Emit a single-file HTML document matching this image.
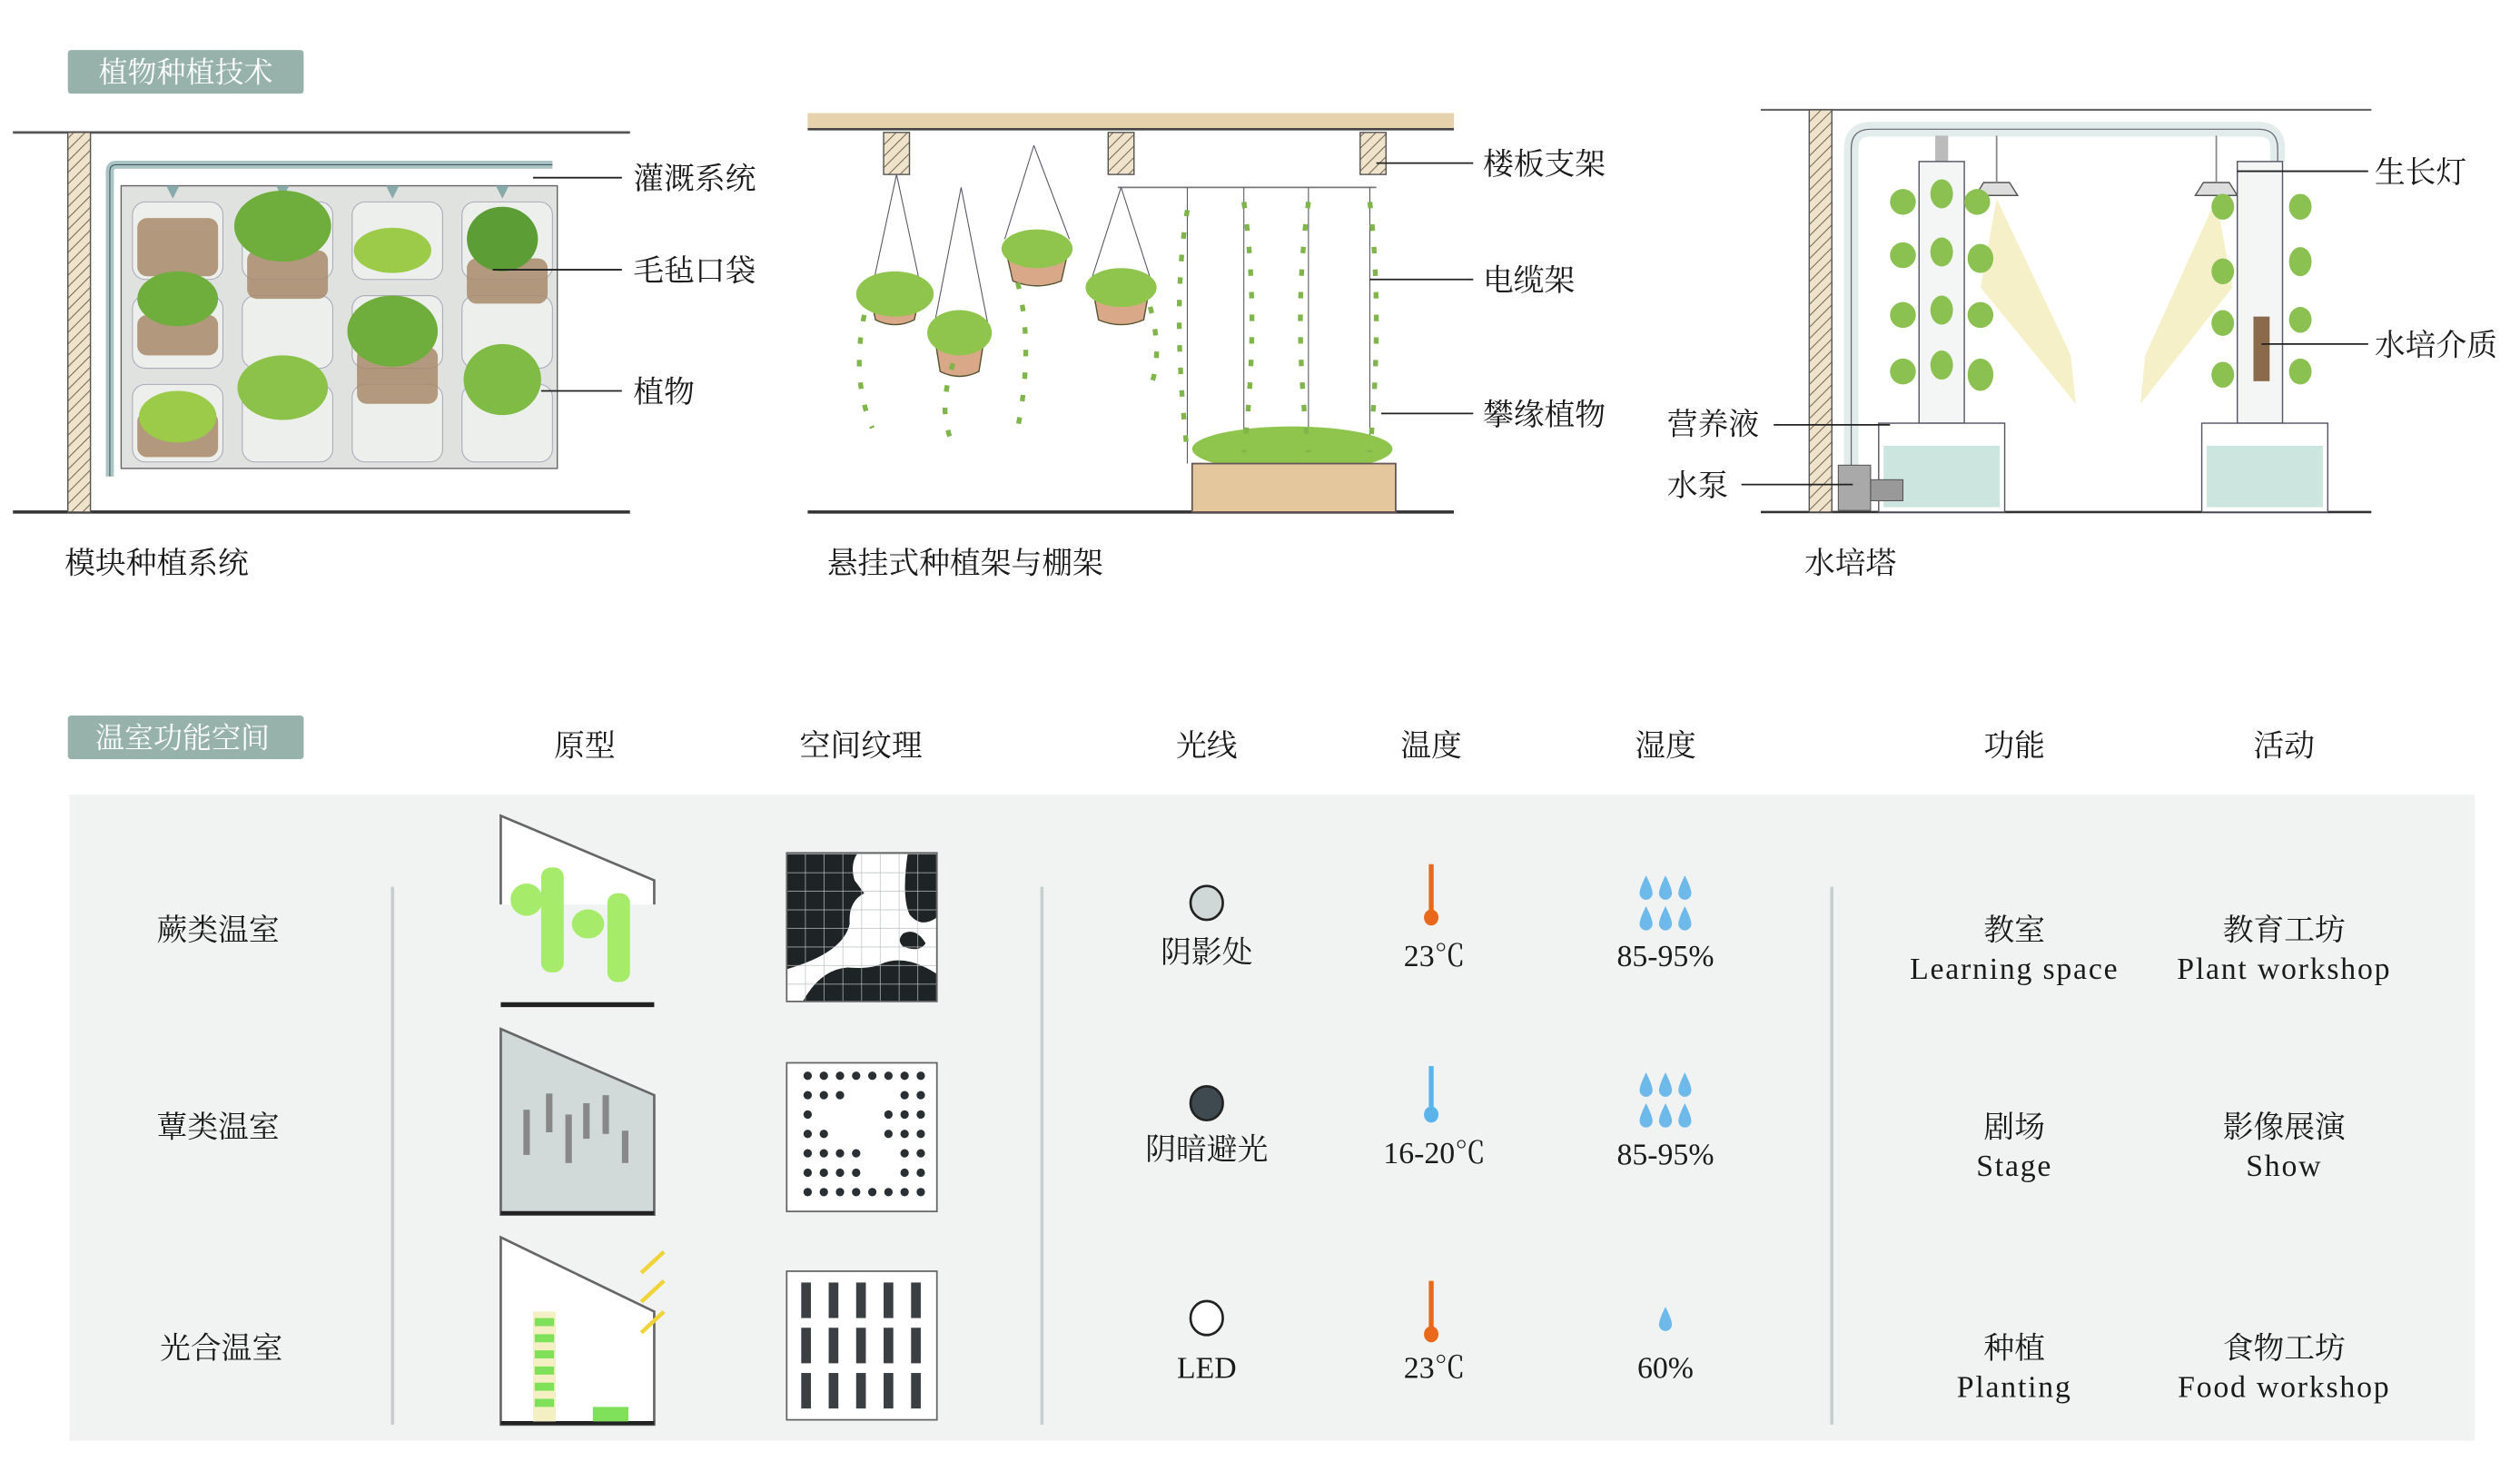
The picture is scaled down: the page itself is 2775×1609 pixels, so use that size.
<!DOCTYPE html>
<html><head><meta charset="utf-8"><style>
html,body{margin:0;padding:0;background:#fff;}
svg{display:block;}
text{font-family:"Liberation Serif","Noto Serif CJK SC",serif;fill:#1a1a1a;}
.t{font-size:19px;}
.c{text-anchor:middle;}
</style></head><body>
<svg width="2775" height="1609" viewBox="0 0 1560 904.5" preserveAspectRatio="none" xmlns="http://www.w3.org/2000/svg">
<defs>
<pattern id="hatch" width="5" height="5" patternUnits="userSpaceOnUse" patternTransform="rotate(45)">
<rect width="5" height="5" fill="#efe3cc"/><line x1="0" y1="0" x2="0" y2="5" stroke="#7a6a55" stroke-width="1.2"/></pattern>
<pattern id="grid" width="11.6" height="11.5" patternUnits="userSpaceOnUse"><rect width="11.6" height="11.5" fill="none"/><path d="M11.6 0V11.5M0 11.5H11.6" stroke="#b8bfc0" stroke-width="0.8"/></pattern>
<radialGradient id="glow"><stop offset="0" stop-color="#f6eb9a"/><stop offset="1" stop-color="#f6eb9a" stop-opacity="0"/></radialGradient>
</defs>

<!-- TOP TAG -->
<rect x="42" y="31" width="146" height="27" rx="2" fill="#97b2ab"/>
<text x="115" y="51" class="t c" style="fill:#fff;font-size:18px">植物种植技术</text>

<!-- LEFT: modular -->
<line x1="8" y1="82" x2="390" y2="82" stroke="#555" stroke-width="1.5"/>
<line x1="8" y1="317" x2="390" y2="317" stroke="#333" stroke-width="2"/>
<rect x="42" y="82" width="14" height="235" fill="url(#hatch)" stroke="#555" stroke-width="0.8"/>
<path d="M68 295 V106 Q68 102 72 102 H342" fill="none" stroke="#a9c4c2" stroke-width="5"/>
<path d="M68 295 V106 Q68 102 72 102 H342" fill="none" stroke="#456" stroke-width="0.6"/>
<rect x="75" y="115" width="270" height="175" fill="#dfe2df" stroke="#666" stroke-width="0.8"/>
<g fill="#8aa">
<path d="M107 105v10l-4 0 4 8 4-8h-4z"/><path d="M175 105v10h-4l4 8 4-8h-4z"/><path d="M243 105v10h-4l4 8 4-8h-4z"/><path d="M311 105v10h-4l4 8 4-8h-4z"/></g>
<g stroke="#aab" stroke-width="0.6" fill="#ecefec">
<rect x="82" y="125" width="56" height="48" rx="8"/><rect x="150" y="125" width="56" height="48" rx="8"/><rect x="218" y="125" width="56" height="48" rx="8"/><rect x="286" y="125" width="56" height="48" rx="8"/>
<rect x="82" y="183" width="56" height="45" rx="8"/><rect x="150" y="183" width="56" height="45" rx="8"/><rect x="218" y="183" width="56" height="45" rx="8"/><rect x="286" y="183" width="56" height="45" rx="8"/>
<rect x="82" y="238" width="56" height="48" rx="8"/><rect x="150" y="238" width="56" height="48" rx="8"/><rect x="218" y="238" width="56" height="48" rx="8"/><rect x="286" y="238" width="56" height="48" rx="8"/></g>
<g fill="#a98a6a" opacity="0.85">
<rect x="85" y="135" width="50" height="36" rx="6"/><rect x="153" y="155" width="50" height="30" rx="6"/><rect x="289" y="160" width="50" height="28" rx="6"/><rect x="85" y="195" width="50" height="25" rx="6"/><rect x="221" y="215" width="50" height="35" rx="6"/><rect x="85" y="255" width="50" height="28" rx="6"/></g>
<g fill="#6fae3c">
<ellipse cx="175" cy="140" rx="30" ry="22"/><ellipse cx="243" cy="155" rx="24" ry="14" fill="#9ccb4a"/><ellipse cx="311" cy="148" rx="22" ry="20" fill="#5c9d35"/>
<ellipse cx="110" cy="185" rx="25" ry="17"/><ellipse cx="243" cy="205" rx="28" ry="22"/><ellipse cx="175" cy="240" rx="28" ry="20" fill="#8cc24a"/>
<ellipse cx="110" cy="258" rx="24" ry="16" fill="#9ccb4a"/><ellipse cx="311" cy="235" rx="24" ry="22" fill="#7fbb45"/></g>
<g stroke="#222" stroke-width="1"><line x1="330" y1="110" x2="385" y2="110"/><line x1="305" y1="167" x2="385" y2="167"/><line x1="335" y1="242" x2="385" y2="242"/></g>
<text x="392" y="117" class="t">灌溉系统</text>
<text x="392" y="174" class="t">毛毡口袋</text>
<text x="392" y="249" class="t">植物</text>
<text x="40" y="355" class="t">模块种植系统</text>

<!-- MIDDLE: hanging -->
<rect x="500" y="70" width="400" height="10" fill="#e6d3ae"/>
<line x1="500" y1="80" x2="900" y2="80" stroke="#444" stroke-width="1.5"/>
<g fill="url(#hatch)" stroke="#555" stroke-width="0.8"><rect x="547" y="82" width="16" height="26"/><rect x="686" y="82" width="16" height="26"/><rect x="842" y="82" width="16" height="26"/></g>
<line x1="500" y1="317" x2="900" y2="317" stroke="#333" stroke-width="2"/>
<line x1="692" y1="116" x2="852" y2="116" stroke="#777" stroke-width="1"/>
<g stroke="#556" stroke-width="0.6" fill="none">
<path d="M555 108 L540 178 M555 108 L570 178"/><path d="M595 116 L578 203 M595 116 L612 203"/><path d="M640 90 L622 148 M640 90 L662 148"/><path d="M694 116 L676 172 M694 116 L712 172"/>
<line x1="735" y1="116" x2="735" y2="287"/><line x1="770" y1="116" x2="770" y2="287"/><line x1="810" y1="116" x2="810" y2="287"/><line x1="848" y1="116" x2="848" y2="287"/></g>
<g fill="#d9a889" stroke="#553" stroke-width="0.8">
<path d="M538 180 h32 l-4 18 q-12 6 -24 0z"/><path d="M578 205 h32 l-4 25 q-12 6 -24 0z"/><path d="M622 152 h40 l-5 22 q-15 6 -30 0z"/><path d="M676 176 h36 l-4 22 q-14 6 -28 0z"/></g>
<g fill="#8fc54d">
<ellipse cx="554" cy="182" rx="24" ry="14"/><ellipse cx="594" cy="206" rx="20" ry="14"/><ellipse cx="642" cy="154" rx="22" ry="12"/><ellipse cx="694" cy="178" rx="22" ry="12"/>
<ellipse cx="800" cy="278" rx="62" ry="14"/></g>
<g stroke="#7fb54a" stroke-width="3" stroke-dasharray="4 10" fill="none">
<path d="M535 195 q-8 40 5 70"/><path d="M590 225 q-10 30 0 50"/><path d="M630 175 q10 40 0 90"/><path d="M712 190 q8 30 0 50"/>
<path d="M735 130 q-10 60 0 150"/><path d="M770 125 q10 70 0 155"/><path d="M810 125 q-10 70 0 155"/><path d="M848 125 q8 70 0 155"/></g>
<rect x="738" y="287" width="126" height="30" fill="#e4c79c" stroke="#655" stroke-width="1"/>
<g stroke="#222" stroke-width="1"><line x1="852" y1="101" x2="912" y2="101"/><line x1="848" y1="173" x2="912" y2="173"/><line x1="855" y1="256" x2="912" y2="256"/></g>
<text x="918" y="108" class="t">楼板支架</text>
<text x="918" y="180" class="t">电缆架</text>
<text x="918" y="263" class="t">攀缘植物</text>
<text x="512" y="355" class="t">悬挂式种植架与棚架</text>

<!-- RIGHT: hydro tower -->
<line x1="1090" y1="68" x2="1468" y2="68" stroke="#666" stroke-width="1.2"/>
<line x1="1090" y1="317" x2="1468" y2="317" stroke="#333" stroke-width="1.5"/>
<rect x="1120" y="68" width="14" height="249" fill="url(#hatch)" stroke="#555" stroke-width="0.8"/>
<path d="M1146 300 V92 Q1146 80 1158 80 H1398 Q1410 80 1410 92 V100" fill="none" stroke="#e2ecea" stroke-width="9"/>
<path d="M1146 300 V92 Q1146 80 1158 80 H1398 Q1410 80 1410 92 V100" fill="none" stroke="#667" stroke-width="0.7"/>
<line x1="1202" y1="84" x2="1202" y2="100" stroke="#bbb" stroke-width="8"/>
<polygon points="1236,123 1226,178 1285,250 1282,220" fill="#f4ecbc" opacity="0.8"/>
<polygon points="1372,123 1382,178 1325,250 1328,220" fill="#f4ecbc" opacity="0.8"/>
<path d="M1228 113 h16 l5 8 h-26z" fill="#ddd" stroke="#555" stroke-width="0.8"/>
<path d="M1364 113 h16 l5 8 h-26z" fill="#ddd" stroke="#555" stroke-width="0.8"/>
<line x1="1236" y1="84" x2="1236" y2="113" stroke="#888"/><line x1="1372" y1="84" x2="1372" y2="113" stroke="#888"/>
<rect x="1188" y="100" width="28" height="162" fill="#f3f6f5" stroke="#556" stroke-width="0.8"/>
<rect x="1385" y="100" width="28" height="162" fill="#f3f6f5" stroke="#556" stroke-width="0.8"/>
<rect x="1395" y="196" width="10" height="40" fill="#8a6a4a"/>
<g fill="#8ac150">
<ellipse cx="1178" cy="125" rx="8" ry="8"/><ellipse cx="1202" cy="120" rx="7" ry="9"/><ellipse cx="1224" cy="125" rx="8" ry="8"/>
<ellipse cx="1178" cy="158" rx="8" ry="8"/><ellipse cx="1202" cy="156" rx="7" ry="9"/><ellipse cx="1226" cy="160" rx="8" ry="9"/>
<ellipse cx="1178" cy="195" rx="8" ry="8"/><ellipse cx="1202" cy="192" rx="7" ry="9"/><ellipse cx="1226" cy="195" rx="8" ry="8"/>
<ellipse cx="1178" cy="230" rx="8" ry="8"/><ellipse cx="1202" cy="226" rx="7" ry="9"/><ellipse cx="1226" cy="232" rx="8" ry="10"/>
<ellipse cx="1376" cy="128" rx="7" ry="8"/><ellipse cx="1424" cy="128" rx="7" ry="8"/><ellipse cx="1376" cy="168" rx="7" ry="8"/><ellipse cx="1424" cy="162" rx="7" ry="9"/>
<ellipse cx="1376" cy="200" rx="7" ry="8"/><ellipse cx="1424" cy="198" rx="7" ry="8"/><ellipse cx="1376" cy="232" rx="7" ry="8"/><ellipse cx="1424" cy="230" rx="7" ry="8"/></g>
<rect x="1163" y="262" width="78" height="55" fill="#fff" stroke="#556" stroke-width="0.8"/>
<rect x="1166" y="276" width="72" height="38" fill="#cde5df"/>
<rect x="1363" y="262" width="78" height="55" fill="#fff" stroke="#556" stroke-width="0.8"/>
<rect x="1366" y="276" width="72" height="38" fill="#cde5df"/>
<rect x="1138" y="288" width="20" height="28" fill="#a9a9a9" stroke="#555" stroke-width="0.6"/>
<rect x="1158" y="297" width="20" height="13" fill="#999" stroke="#555" stroke-width="0.6"/>
<g stroke="#222" stroke-width="1"><line x1="1385" y1="106" x2="1466" y2="106"/><line x1="1400" y1="213" x2="1466" y2="213"/><line x1="1098" y1="263" x2="1170" y2="263"/><line x1="1078" y1="300" x2="1147" y2="300"/></g>
<text x="1470" y="113" class="t">生长灯</text>
<text x="1470" y="220" class="t">水培介质</text>
<text x="1032" y="269" class="t">营养液</text>
<text x="1032" y="307" class="t">水泵</text>
<text x="1117" y="355" class="t">水培塔</text>

<!-- BOTTOM TAG + HEADERS -->
<rect x="42" y="443" width="146" height="27" rx="2" fill="#97b2ab"/>
<text x="113" y="463" class="t c" style="fill:#fff;font-size:18px">温室功能空间</text>
<g class="t c">
<text x="362" y="468" class="t c">原型</text><text x="533" y="468" class="t c">空间纹理</text><text x="747" y="468" class="t c">光线</text>
<text x="886" y="468" class="t c">温度</text><text x="1031" y="468" class="t c">湿度</text><text x="1247" y="468" class="t c">功能</text><text x="1414" y="468" class="t c">活动</text></g>

<rect x="43" y="492" width="1489" height="400" fill="#f1f3f2"/>
<g stroke="#c6cfcf" stroke-width="2"><line x1="243" y1="549" x2="243" y2="882"/><line x1="645" y1="549" x2="645" y2="882"/><line x1="1134" y1="549" x2="1134" y2="882"/></g>

<text x="135" y="582" class="t c">蕨类温室</text>
<text x="135" y="704" class="t c">蕈类温室</text>
<text x="137" y="841" class="t c">光合温室</text>

<!-- prototypes -->
<path d="M310 505 L310 560 L405 560 L405 545 Z" fill="#fff"/>
<path d="M310 560 V505 L405 545 V560" fill="none" stroke="#666" stroke-width="1.5"/>
<g fill="#a6ec6a"><ellipse cx="326" cy="557" rx="10" ry="10"/><ellipse cx="364" cy="572" rx="10" ry="9"/><rect x="335" y="537" width="14" height="65" rx="6"/><rect x="376" y="553" width="14" height="55" rx="6"/></g>
<line x1="310" y1="622" x2="405" y2="622" stroke="#222" stroke-width="3"/>
<path d="M310 752 V637 L405 678 V752 Z" fill="#d1d9d9" stroke="#666" stroke-width="1.5"/>
<line x1="310" y1="751" x2="405" y2="751" stroke="#222" stroke-width="2.5"/>
<g fill="#888"><rect x="324" y="687" width="4" height="28"/><rect x="338" y="677" width="4" height="24"/><rect x="350" y="690" width="4" height="30"/><rect x="361" y="683" width="4" height="22"/><rect x="373" y="678" width="4" height="24"/><rect x="385" y="700" width="4" height="20"/></g>
<path d="M310 882 V766 L405 812 V882 Z" fill="#fff" stroke="#666" stroke-width="1.5"/>
<line x1="310" y1="881" x2="405" y2="881" stroke="#222" stroke-width="2.5"/>
<rect x="330" y="812" width="14" height="68" fill="#f4f0c4"/>
<g fill="#7fe05a"><rect x="331" y="816" width="12" height="5"/><rect x="331" y="826" width="12" height="5"/><rect x="331" y="836" width="12" height="5"/><rect x="331" y="846" width="12" height="5"/><rect x="331" y="856" width="12" height="5"/><rect x="331" y="866" width="12" height="5"/><rect x="367" y="871" width="22" height="9"/></g>
<g stroke="#f0d437" stroke-width="2.5"><line x1="397" y1="788" x2="411" y2="775"/><line x1="397" y1="806" x2="411" y2="793"/><line x1="397" y1="825" x2="411" y2="812"/></g>

<!-- textures -->
<rect x="487" y="528" width="93" height="92" fill="#fff"/>
<path d="M487 528 H531 Q526 535 529 545 L535 553 Q525 558 526 572 Q522 590 487 600 Z" fill="#1e2326"/>
<path d="M562 528 H580 V568 Q570 575 563 566 Q558 555 562 528Z" fill="#1e2326"/>
<path d="M559 578 q8-4 14 6 q-4 6 -14 2 q-4-4 0-8z" fill="#1e2326"/>
<path d="M497 620 Q508 600 525 599 Q538 600 545 597 Q560 590 580 603 V620 Z" fill="#1e2326"/>
<rect x="487" y="528" width="93" height="92" fill="url(#grid)" stroke="#666" stroke-width="1"/>
<rect x="487" y="658" width="93" height="92" fill="#fff" stroke="#666" stroke-width="1"/>
<g fill="#2a2f33">
<circle cx="500" cy="666" r="2.6"/><circle cx="510" cy="666" r="2.6"/><circle cx="520" cy="666" r="2.6"/><circle cx="530" cy="666" r="2.6"/><circle cx="540" cy="666" r="2.6"/><circle cx="550" cy="666" r="2.6"/><circle cx="560" cy="666" r="2.6"/><circle cx="570" cy="666" r="2.6"/>
<circle cx="500" cy="678" r="2.6"/><circle cx="510" cy="678" r="2.6"/><circle cx="520" cy="678" r="2.6"/><circle cx="560" cy="678" r="2.6"/><circle cx="570" cy="678" r="2.6"/>
<circle cx="500" cy="690" r="2.6"/><circle cx="550" cy="690" r="2.6"/><circle cx="560" cy="690" r="2.6"/><circle cx="570" cy="690" r="2.6"/>
<circle cx="500" cy="702" r="2.6"/><circle cx="510" cy="702" r="2.6"/><circle cx="550" cy="702" r="2.6"/><circle cx="560" cy="702" r="2.6"/><circle cx="570" cy="702" r="2.6"/>
<circle cx="500" cy="714" r="2.6"/><circle cx="510" cy="714" r="2.6"/><circle cx="520" cy="714" r="2.6"/><circle cx="530" cy="714" r="2.6"/><circle cx="560" cy="714" r="2.6"/><circle cx="570" cy="714" r="2.6"/>
<circle cx="500" cy="726" r="2.6"/><circle cx="510" cy="726" r="2.6"/><circle cx="520" cy="726" r="2.6"/><circle cx="530" cy="726" r="2.6"/><circle cx="560" cy="726" r="2.6"/><circle cx="570" cy="726" r="2.6"/>
<circle cx="500" cy="738" r="2.6"/><circle cx="510" cy="738" r="2.6"/><circle cx="520" cy="738" r="2.6"/><circle cx="530" cy="738" r="2.6"/><circle cx="540" cy="738" r="2.6"/><circle cx="550" cy="738" r="2.6"/><circle cx="560" cy="738" r="2.6"/><circle cx="570" cy="738" r="2.6"/></g>
<rect x="487" y="787" width="93" height="92" fill="#fff" stroke="#666" stroke-width="1"/>
<g fill="#3a3f44">
<rect x="496" y="794" width="6" height="22"/><rect x="513" y="794" width="6" height="22"/><rect x="530" y="794" width="6" height="22"/><rect x="547" y="794" width="6" height="22"/><rect x="564" y="794" width="6" height="22"/>
<rect x="496" y="822" width="6" height="22"/><rect x="513" y="822" width="6" height="22"/><rect x="530" y="822" width="6" height="22"/><rect x="547" y="822" width="6" height="22"/><rect x="564" y="822" width="6" height="22"/>
<rect x="496" y="850" width="6" height="22"/><rect x="513" y="850" width="6" height="22"/><rect x="530" y="850" width="6" height="22"/><rect x="547" y="850" width="6" height="22"/><rect x="564" y="850" width="6" height="22"/></g>

<!-- light -->
<ellipse cx="747" cy="559" rx="10" ry="10.5" fill="#cfd8d7" stroke="#222" stroke-width="1.5"/>
<ellipse cx="747" cy="683" rx="10" ry="10.5" fill="#3f4a50" stroke="#222" stroke-width="1.5"/>
<ellipse cx="747" cy="816" rx="10" ry="10.5" fill="#fff" stroke="#222" stroke-width="1.5"/>
<text x="747" y="596" class="t c">阴影处</text>
<text x="747" y="718" class="t c">阴暗避光</text>
<text x="747" y="853" class="t c">LED</text>

<!-- temp -->
<g fill="#e8691b"><rect x="884.5" y="535" width="3" height="30"/><ellipse cx="886" cy="568" rx="4.5" ry="5"/><rect x="884.5" y="793" width="3" height="30"/><ellipse cx="886" cy="826" rx="4.5" ry="5"/></g>
<g fill="#5ab4ea"><rect x="884.5" y="660" width="3" height="30"/><ellipse cx="886" cy="690" rx="4.5" ry="5"/></g>
<text x="888" y="598" class="t c">23℃</text>
<text x="888" y="720" class="t c">16-20℃</text>
<text x="888" y="853" class="t c">23℃</text>

<!-- humidity -->
<g fill="#6cb9ea">
<path id="d" d="M0 -8 Q4 0 4 3 A4 4 0 0 1 -4 3 Q-4 0 0 -8Z" transform="translate(1019,550)"/>
<path d="M0 -8 Q4 0 4 3 A4 4 0 0 1 -4 3 Q-4 0 0 -8Z" transform="translate(1031,550)"/>
<path d="M0 -8 Q4 0 4 3 A4 4 0 0 1 -4 3 Q-4 0 0 -8Z" transform="translate(1043,550)"/>
<path d="M0 -8 Q4 0 4 3 A4 4 0 0 1 -4 3 Q-4 0 0 -8Z" transform="translate(1019,569)"/>
<path d="M0 -8 Q4 0 4 3 A4 4 0 0 1 -4 3 Q-4 0 0 -8Z" transform="translate(1031,569)"/>
<path d="M0 -8 Q4 0 4 3 A4 4 0 0 1 -4 3 Q-4 0 0 -8Z" transform="translate(1043,569)"/>
<path d="M0 -8 Q4 0 4 3 A4 4 0 0 1 -4 3 Q-4 0 0 -8Z" transform="translate(1019,672)"/>
<path d="M0 -8 Q4 0 4 3 A4 4 0 0 1 -4 3 Q-4 0 0 -8Z" transform="translate(1031,672)"/>
<path d="M0 -8 Q4 0 4 3 A4 4 0 0 1 -4 3 Q-4 0 0 -8Z" transform="translate(1043,672)"/>
<path d="M0 -8 Q4 0 4 3 A4 4 0 0 1 -4 3 Q-4 0 0 -8Z" transform="translate(1019,691)"/>
<path d="M0 -8 Q4 0 4 3 A4 4 0 0 1 -4 3 Q-4 0 0 -8Z" transform="translate(1031,691)"/>
<path d="M0 -8 Q4 0 4 3 A4 4 0 0 1 -4 3 Q-4 0 0 -8Z" transform="translate(1043,691)"/>
<path d="M0 -8 Q4 0 4 3 A4 4 0 0 1 -4 3 Q-4 0 0 -8Z" transform="translate(1031,817)"/></g>
<text x="1031" y="598" class="t c">85-95%</text>
<text x="1031" y="721" class="t c">85-95%</text>
<text x="1031" y="853" class="t c">60%</text>

<!-- function / activity -->
<text x="1247" y="582" class="t c">教室</text>
<text x="1247" y="606" class="t c" style="letter-spacing:1px">Learning space</text>
<text x="1414" y="582" class="t c">教育工坊</text>
<text x="1414" y="606" class="t c" style="letter-spacing:1px">Plant workshop</text>
<text x="1247" y="704" class="t c">剧场</text>
<text x="1247" y="728" class="t c" style="letter-spacing:1px">Stage</text>
<text x="1414" y="704" class="t c">影像展演</text>
<text x="1414" y="728" class="t c" style="letter-spacing:1px">Show</text>
<text x="1247" y="841" class="t c">种植</text>
<text x="1247" y="865" class="t c" style="letter-spacing:1px">Planting</text>
<text x="1414" y="841" class="t c">食物工坊</text>
<text x="1414" y="865" class="t c" style="letter-spacing:1px">Food workshop</text>
</svg>
</body></html>
